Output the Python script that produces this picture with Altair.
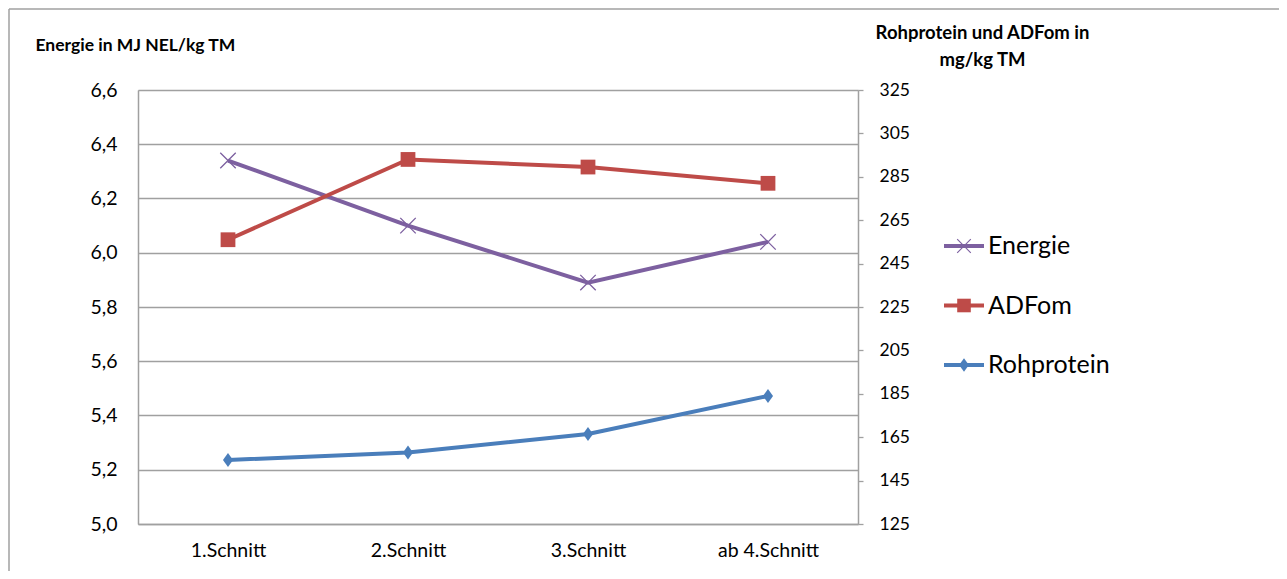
import altair as alt
import pandas as pd

categories = ["1.Schnitt", "2.Schnitt", "3.Schnitt", "ab 4.Schnitt"]
series_names = ["Energie", "ADFom", "Rohprotein"]
energie = [6.34, 6.10, 5.89, 6.04]
adfom = [256.0, 293.0, 289.5, 282.0]
rohprotein = [154.5, 158.0, 166.5, 184.0]
left_ticks = [5.0, 5.2, 5.4, 5.6, 5.8, 6.0, 6.2, 6.4, 6.6]
right_ticks = [125, 145, 165, 185, 205, 225, 245, 265, 285, 305, 325]

colors = ["#7D60A0", "#BE4B48", "#4A7EBB"]
X_PATH = ("M0,-0.12L0.94,-1.06L1.06,-0.94L0.12,0L1.06,0.94L0.94,1.06L0,0.12"
          "L-0.94,1.06L-1.06,0.94L-0.12,0L-1.06,-0.94L-0.94,-1.06Z")
D_PATH = "M0,-1L0.72,0L0,1L-0.72,0Z"
shapes = [X_PATH, "square", D_PATH]
sizes = [240, 196, 256]

rows = []
for name, vals in zip(series_names, [energie, adfom, rohprotein]):
    for c, v in zip(categories, vals):
        rows.append({"Schnitt": c, "Serie": name, "Wert": v})
df = pd.DataFrame(rows)
legend_df = pd.DataFrame({"Serie": series_names})

FONT = "Lato"
GRAY = "#A0A0A0"

x_enc = alt.X(
    "Schnitt:N", sort=categories,
    scale=alt.Scale(type="point", padding=0.5),
    axis=alt.Axis(title=None, labelAngle=0, ticks=False, domainColor=GRAY,
                  domainWidth=1.5, labelFontSize=19.5, labelPadding=17,
                  labelFont=FONT, labelColor="#000000", grid=False),
)

color_enc = alt.Color("Serie:N", scale=alt.Scale(domain=series_names, range=colors), legend=None)
fill_enc = alt.Fill("Serie:N", scale=alt.Scale(domain=series_names, range=colors), legend=None)
shape_enc = alt.Shape("Serie:N", scale=alt.Scale(domain=series_names, range=shapes), legend=None)
size_enc = alt.Size("Serie:N", scale=alt.Scale(domain=series_names, range=sizes), legend=None)

y_left = alt.Y(
    "Wert:Q",
    scale=alt.Scale(domain=[5.0, 6.6], nice=False, zero=False),
    axis=alt.Axis(
        orient="left", values=left_ticks, ticks=False, tickSize=0,
        labelExpr="replace(format(datum.value, '.1f'), '.', ',')",
        labelFontSize=19.5, labelFont=FONT, labelColor="#000000", labelPadding=21,
        grid=True, gridColor=GRAY, gridWidth=1.3, domainColor=GRAY, domainWidth=1.5,
        title="Energie in MJ NEL/kg TM", titleAngle=0, titleX=-103, titleY=-45,
        titleAlign="left", titleBaseline="middle", titleFont=FONT,
        titleFontSize=17.5, titleFontWeight="bold", titleColor="#000000",
    ),
)
y_right = alt.Y(
    "Wert:Q",
    scale=alt.Scale(domain=[125, 325], nice=False, zero=False),
    axis=alt.Axis(
        orient="right", values=right_ticks, ticks=True, tickSize=5,
        tickColor=GRAY, tickWidth=1.3,
        labelFontSize=17.5, labelFont=FONT, labelColor="#000000", labelPadding=16,
        grid=False, domainColor=GRAY, domainWidth=1.5,
        title=["Rohprotein und ADFom in", "mg/kg TM"], titleAngle=0,
        titleX=124, titleY=-67, titleAlign="center", titleBaseline="top",
        titleLineHeight=27, titleFont=FONT, titleFontSize=18.5,
        titleFontWeight="bold", titleColor="#000000",
    ),
)

base_left = alt.Chart(df).transform_filter(alt.datum.Serie == "Energie")
base_right = alt.Chart(df).transform_filter(alt.datum.Serie != "Energie")

left = alt.layer(
    base_left.mark_line(strokeWidth=4).encode(x=x_enc, y=y_left, color=color_enc),
    base_left.mark_point(filled=True, opacity=1).encode(
        x=x_enc, y=y_left, fill=fill_enc, shape=shape_enc, size=size_enc),
)
right = alt.layer(
    base_right.mark_line(strokeWidth=4).encode(x=x_enc, y=y_right, color=color_enc),
    base_right.mark_point(filled=True, opacity=1).encode(
        x=x_enc, y=y_right, fill=fill_enc, shape=shape_enc, size=size_enc),
)

# custom legend: rows placed by a point scale over the series names
y_leg = alt.Y("Serie:N", sort=series_names,
              scale=alt.Scale(type="point", padding=0, range=[156, 275]), axis=None)
leg_base = alt.Chart(legend_df)
legend = alt.layer(
    leg_base.mark_rule(strokeWidth=4).encode(
        x=alt.value(806), x2=alt.value(846), y=y_leg, color=color_enc),
    leg_base.mark_point(filled=True, opacity=1, size=185).encode(
        x=alt.value(826), y=y_leg, fill=fill_enc, shape=shape_enc),
    leg_base.mark_text(align="left", baseline="middle", font=FONT, fontSize=25,
                       color="#000000", dx=0).encode(
        x=alt.value(850), y=y_leg, text="Serie:N"),
)

frame_df = pd.DataFrame({"f": [0]})
frame_top = alt.Chart(frame_df).mark_rule(color=GRAY, strokeWidth=1.5).encode(
    x=alt.value(-129), x2=alt.value(1141), y=alt.value(-81))
frame_left = alt.Chart(frame_df).mark_rule(color=GRAY, strokeWidth=1.5).encode(
    x=alt.value(-129), y=alt.value(-81), y2=alt.value(481))

chart = alt.layer(left, right, legend, frame_top, frame_left).resolve_scale(
    y="independent"
).properties(
    width=720, height=434,
    autosize=alt.AutoSizeParams(type="none"),
    padding={"left": 130, "top": 82, "right": 421, "bottom": 47},
).configure_view(stroke=None).configure(background="#FFFFFF")

chart.save("out.html", embed_options={"renderer": "svg", "actions": False})
